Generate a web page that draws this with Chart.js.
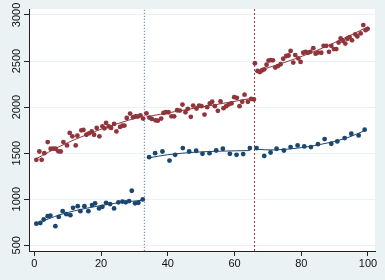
<!DOCTYPE html>
<html>
<head>
<meta charset="utf-8">
<script src="https://cdn.jsdelivr.net/npm/chart.js@4.4.1/dist/chart.umd.min.js"></script>
<style>
  html, body { margin: 0; padding: 0; background: #eaf2f3; }
  #wrap { width: 385px; height: 280px; }
</style>
</head>
<body>
<div id="wrap"><canvas id="c" width="385" height="280"></canvas></div>
<script>
// tick labels
const xTicks = [0, 20, 40, 60, 80, 100];
const yTicks = [500, 1000, 1500, 2000, 2500, 3000];

// red series
const redX = [0.6, 1.5, 2.2, 3.0, 4.0, 4.9, 5.7, 6.4, 7.2, 7.9, 8.7, 9.8, 10.6, 11.4, 12.4, 12.9, 14.1, 14.7, 15.6, 16.4,
  17.2, 17.9, 18.7, 19.5, 20.4, 21.0, 21.5, 22.3, 23.0, 23.9, 24.6, 25.7, 26.4, 27.0, 27.7, 28.7, 29.6, 30.3, 31.0, 31.8, 32.6,
  33.6, 34.5, 35.2, 36.3, 37.0, 38.0, 38.7, 39.4, 40.2, 41.1, 41.9, 42.8, 43.6, 44.4, 45.3, 46.0, 46.9, 47.6, 48.6, 49.4, 50.1,
  51.0, 51.8, 52.6, 53.3, 54.1, 55.0, 55.8, 56.7, 57.5, 58.3, 59.1, 59.9, 60.7, 61.5, 62.3, 63.0, 64.0, 65.0, 65.8,
  66.1, 66.9, 67.6, 68.3, 68.9, 69.6, 70.2, 70.8, 71.5, 72.2, 73.0, 73.8, 74.6, 75.5, 76.2, 76.8, 77.6, 78.2, 79.1, 79.8,
  80.6, 81.3, 82.0, 82.7, 83.6, 84.3, 85.0, 86.0, 86.7, 87.5, 88.3, 89.0, 89.8, 90.5, 91.2, 91.8, 92.5, 93.2, 93.8, 94.5,
  95.2, 96.2, 96.8, 97.8, 98.6, 99.3, 99.9];
const redY = [1428, 1518, 1428, 1500, 1620, 1548, 1550, 1548, 1520, 1518, 1620, 1584, 1720, 1683, 1584, 1690, 1748, 1752, 1700, 1715,
  1736, 1700, 1774, 1683, 1791, 1770, 1828, 1790, 1774, 1817, 1736, 1785, 1800, 1800, 1883, 1930, 1890, 1900, 1898, 1910, 1875,
  1932, 1885, 1872, 1857, 1853, 1875, 1937, 1944, 1944, 1900, 1900, 1966, 1962, 2028, 1944, 1981, 1894, 2017, 1985, 2017, 2010,
  1919, 1999, 2039, 2058, 2010, 1960, 2062, 1988, 2010, 2030, 2040, 2108, 2101, 2010, 2058, 2135, 2058, 2090, 2083,
  2476, 2392, 2381, 2400, 2410, 2460, 2505, 2510, 2508, 2429, 2445, 2465, 2525, 2555, 2560, 2610, 2483, 2565, 2530, 2490,
  2590, 2600, 2590, 2600, 2640, 2580, 2592, 2590, 2665, 2665, 2600, 2665, 2630, 2630, 2700, 2745, 2720, 2690, 2742, 2760,
  2725, 2790, 2767, 2800, 2890, 2835, 2850];

// blue series
const blueX = [0.6, 1.8, 2.8, 4.0, 4.8, 6.3, 7.3, 8.5, 9.6, 10.8, 11.6, 13.0, 13.8, 15.0, 16.2, 17.3, 18.2, 19.4, 20.4, 21.5,
  22.7, 23.9, 25.2, 26.4, 27.4, 28.4, 29.2, 30.2, 31.2, 32.5,
  34.4, 36.2, 38.4, 40.5, 42.2, 44.5, 46.4, 48.5, 50.4, 52.5, 54.5, 56.5, 58.6, 60.6, 62.6, 64.6,
  66.6, 68.9, 70.8, 72.6, 74.8, 76.8, 78.9, 80.9, 82.9, 85.0, 87.0, 89.0, 90.8, 93.0, 95.0, 97.2, 99.0];
const blueY = [735, 742, 780, 816, 823, 707, 808, 870, 838, 827, 907, 925, 870, 925, 870, 936, 955, 900, 918, 961,
  947, 900, 966, 975, 966, 980, 1092, 955, 961, 998,
  1457, 1500, 1518, 1420, 1482, 1555, 1518, 1526, 1493, 1500, 1529, 1548, 1493, 1482, 1490, 1555,
  1555, 1470, 1507, 1548, 1529, 1566, 1584, 1573, 1566, 1598, 1653, 1602, 1627, 1664, 1711, 1693, 1755];

// fitted curves
const redFit1X = [0.6, 8, 16, 24, 32.6];
const redFit1Y = [1440, 1580, 1705, 1810, 1905];
const redFit2X = [33.6, 42, 50, 58, 65.8];
const redFit2Y = [1895, 1950, 2000, 2050, 2100];
const redFit3X = [66.1, 74, 82.6, 90, 99.9];
const redFit3Y = [2385, 2473, 2585, 2700, 2870];
const blueFit1X = [0.6, 8, 16, 24, 32.5];
const blueFit1Y = [735, 835, 905, 955, 990];
const blueFit2X = [34.4, 40, 48, 56, 64.6];
const blueFit2Y = [1450, 1483, 1510, 1522, 1528];
const blueFit3X = [66.6, 72, 80, 88, 94, 99];
const blueFit3Y = [1542, 1535, 1560, 1612, 1670, 1745];

// cut points
const cuts = [33, 66];

const RED = '#90353b';
const BLUE = '#1a476f';
const Y_MIN = 438, Y_MAX = 3065;

const pts = (xs, ys) => xs.map((x, i) => ({ x: x, y: ys[i] }));

function fitLine(xs, ys, color) {
    return {
        type: 'line', data: pts(xs, ys), borderColor: color, borderWidth: 1,
        pointRadius: 0, fill: false, tension: 0.35
    };
}

const bgPlugin = {
    id: 'bg',
    beforeDraw(chart) {
        const { ctx, chartArea: a } = chart;
        ctx.save();
        ctx.fillStyle = '#eaf2f3';
        ctx.fillRect(0, 0, chart.width, chart.height);
        ctx.fillStyle = '#ffffff';
        ctx.fillRect(a.left, a.top, a.right - a.left, a.bottom - a.top);
        ctx.restore();
    }
};

// y labels are vertical (read bottom to top)
const yLabelPlugin = {
    id: 'yLabels',
    afterDraw(chart) {
        const { ctx } = chart;
        const y = chart.scales.y;
        ctx.save();
        ctx.font = '11px "Liberation Sans", Arial, sans-serif';
        ctx.fillStyle = '#111';
        ctx.textAlign = 'center';
        ctx.textBaseline = 'middle';
        yTicks.forEach(v => {
            ctx.save();
            ctx.translate(17, y.getPixelForValue(v));
            ctx.rotate(-Math.PI / 2);
            ctx.fillText(String(v), 0, 0);
            ctx.restore();
        });
        ctx.restore();
    }
};

const ctx = document.getElementById('c').getContext('2d');
new Chart(ctx, {
    type: 'scatter',
    data: {
        datasets: [
            { data: pts(redX, redY), backgroundColor: RED, borderWidth: 0, pointRadius: 2.4 },
            { data: pts(blueX, blueY), backgroundColor: BLUE, borderWidth: 0, pointRadius: 2.4 },
            fitLine(redFit1X, redFit1Y, RED),
            fitLine(redFit2X, redFit2Y, RED),
            fitLine(redFit3X, redFit3Y, RED),
            fitLine(blueFit1X, blueFit1Y, BLUE),
            fitLine(blueFit2X, blueFit2Y, BLUE),
            fitLine(blueFit3X, blueFit3Y, BLUE),
            {
                type: 'line', data: [{ x: cuts[0], y: Y_MIN }, { x: cuts[0], y: Y_MAX }],
                borderColor: '#7f96b5', borderWidth: 1.3, borderDash: [1.3, 1.7], pointRadius: 0
            },
            {
                type: 'line', data: [{ x: cuts[1], y: Y_MIN }, { x: cuts[1], y: Y_MAX }],
                borderColor: RED, borderWidth: 1, borderDash: [2, 2], pointRadius: 0
            }
        ]
    },
    options: {
        responsive: false,
        animation: false,
        layout: { padding: { top: 9, right: 10, left: 0, bottom: 0 } },
        plugins: { legend: { display: false }, tooltip: { enabled: false } },
        scales: {
            x: {
                type: 'linear', min: -1.6, max: 102.1,
                afterBuildTicks: s => { s.ticks = xTicks.map(v => ({ value: v })); },
                afterFit: s => { s.height = 29; },
                grid: { drawOnChartArea: false, tickLength: 5, tickColor: '#222' },
                border: { color: '#222', width: 1 },
                ticks: { color: '#111', padding: 1, maxRotation: 0, font: { family: '"Liberation Sans", Arial, sans-serif', size: 11 } }
            },
            y: {
                type: 'linear', min: Y_MIN, max: Y_MAX,
                afterBuildTicks: s => { s.ticks = yTicks.map(v => ({ value: v })); },
                afterFit: s => { s.width = 29; },
                grid: { color: '#eaf2f3', lineWidth: 1, tickLength: 5, tickColor: '#222' },
                border: { color: '#222', width: 1 },
                ticks: { display: false }
            }
        }
    },
    plugins: [bgPlugin, yLabelPlugin]
});
</script>
</body>
</html>
